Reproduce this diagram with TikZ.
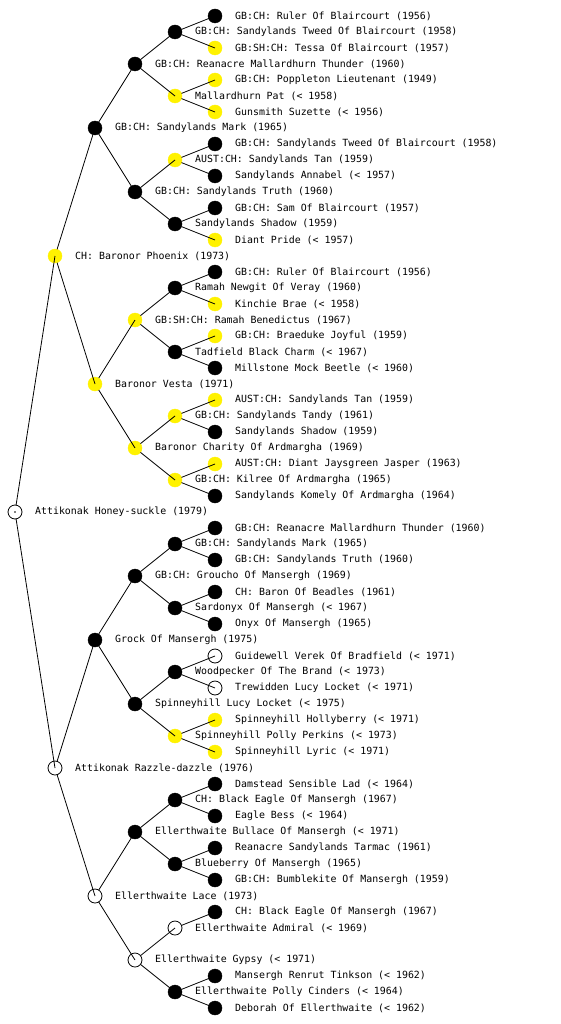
\documentclass[tikz,border=0pt]{standalone}
\usepackage{fontspec}
\newfontfamily\pix{DejaVu Sans Mono}
\tikzset{
  pnode/.style={circle,minimum size=14pt,inner sep=0pt,outer sep=0pt},
  blk/.style={pnode,draw=black,fill=black},
  ylw/.style={pnode,draw=yellow,fill=yellow},
  wht/.style={pnode,draw=black,line width=0.8pt},
  lbl/.style={font=\pix\fontsize{9.9}{11}\selectfont,inner sep=0pt,text=black,xshift=13pt},
  edge/.style={draw=black,line width=0.8pt}
}
\newcommand\pn[5]{\node[#1,label={[lbl]0:{#5}}] (#2) at (#3,#4) {};}
\begin{document}
\begin{tikzpicture}[x=1pt,y=-1pt]
\useasboundingbox[fill=white] (0,0) rectangle (560,1024);
% level 0
\pn{wht}{a0}{15}{512}{Attikonak Honey-suckle (1979)}
% level 1
\pn{ylw}{b0}{55}{256}{CH: Baronor Phoenix (1973)}
\pn{wht}{b1}{55}{768}{Attikonak Razzle-dazzle (1976)}
% level 2
\pn{blk}{c0}{95}{128}{GB:CH: Sandylands Mark (1965)}
\pn{ylw}{c1}{95}{384}{Baronor Vesta (1971)}
\pn{blk}{c2}{95}{640}{Grock Of Mansergh (1975)}
\pn{wht}{c3}{95}{896}{Ellerthwaite Lace (1973)}
% level 3
\pn{blk}{d0}{135}{64}{GB:CH: Reanacre Mallardhurn Thunder (1960)}
\pn{blk}{d1}{135}{192}{GB:CH: Sandylands Truth (1960)}
\pn{ylw}{d2}{135}{320}{GB:SH:CH: Ramah Benedictus (1967)}
\pn{ylw}{d3}{135}{448}{Baronor Charity Of Ardmargha (1969)}
\pn{blk}{d4}{135}{576}{GB:CH: Groucho Of Mansergh (1969)}
\pn{blk}{d5}{135}{704}{Spinneyhill Lucy Locket (< 1975)}
\pn{blk}{d6}{135}{832}{Ellerthwaite Bullace Of Mansergh (< 1971)}
\pn{wht}{d7}{135}{960}{Ellerthwaite Gypsy (< 1971)}
% level 4
\pn{blk}{e0}{175}{32}{GB:CH: Sandylands Tweed Of Blaircourt (1958)}
\pn{ylw}{e1}{175}{96}{Mallardhurn Pat (< 1958)}
\pn{ylw}{e2}{175}{160}{AUST:CH: Sandylands Tan (1959)}
\pn{blk}{e3}{175}{224}{Sandylands Shadow (1959)}
\pn{blk}{e4}{175}{288}{Ramah Newgit Of Veray (1960)}
\pn{blk}{e5}{175}{352}{Tadfield Black Charm (< 1967)}
\pn{ylw}{e6}{175}{416}{GB:CH: Sandylands Tandy (1961)}
\pn{ylw}{e7}{175}{480}{GB:CH: Kilree Of Ardmargha (1965)}
\pn{blk}{e8}{175}{544}{GB:CH: Sandylands Mark (1965)}
\pn{blk}{e9}{175}{608}{Sardonyx Of Mansergh (< 1967)}
\pn{blk}{e10}{175}{672}{Woodpecker Of The Brand (< 1973)}
\pn{ylw}{e11}{175}{736}{Spinneyhill Polly Perkins (< 1973)}
\pn{blk}{e12}{175}{800}{CH: Black Eagle Of Mansergh (1967)}
\pn{blk}{e13}{175}{864}{Blueberry Of Mansergh (1965)}
\pn{wht}{e14}{175}{928}{Ellerthwaite Admiral (< 1969)}
\pn{blk}{e15}{175}{992}{Ellerthwaite Polly Cinders (< 1964)}
% level 5
\pn{blk}{f0}{215}{16}{GB:CH: Ruler Of Blaircourt (1956)}
\pn{ylw}{f1}{215}{48}{GB:SH:CH: Tessa Of Blaircourt (1957)}
\pn{ylw}{f2}{215}{80}{GB:CH: Poppleton Lieutenant (1949)}
\pn{ylw}{f3}{215}{112}{Gunsmith Suzette (< 1956)}
\pn{blk}{f4}{215}{144}{GB:CH: Sandylands Tweed Of Blaircourt (1958)}
\pn{blk}{f5}{215}{176}{Sandylands Annabel (< 1957)}
\pn{blk}{f6}{215}{208}{GB:CH: Sam Of Blaircourt (1957)}
\pn{ylw}{f7}{215}{240}{Diant Pride (< 1957)}
\pn{blk}{f8}{215}{272}{GB:CH: Ruler Of Blaircourt (1956)}
\pn{ylw}{f9}{215}{304}{Kinchie Brae (< 1958)}
\pn{ylw}{f10}{215}{336}{GB:CH: Braeduke Joyful (1959)}
\pn{blk}{f11}{215}{368}{Millstone Mock Beetle (< 1960)}
\pn{ylw}{f12}{215}{400}{AUST:CH: Sandylands Tan (1959)}
\pn{blk}{f13}{215}{432}{Sandylands Shadow (1959)}
\pn{ylw}{f14}{215}{464}{AUST:CH: Diant Jaysgreen Jasper (1963)}
\pn{blk}{f15}{215}{496}{Sandylands Komely Of Ardmargha (1964)}
\pn{blk}{f16}{215}{528}{GB:CH: Reanacre Mallardhurn Thunder (1960)}
\pn{blk}{f17}{215}{560}{GB:CH: Sandylands Truth (1960)}
\pn{blk}{f18}{215}{592}{CH: Baron Of Beadles (1961)}
\pn{blk}{f19}{215}{624}{Onyx Of Mansergh (1965)}
\pn{wht}{f20}{215}{656}{Guidewell Verek Of Bradfield (< 1971)}
\pn{wht}{f21}{215}{688}{Trewidden Lucy Locket (< 1971)}
\pn{ylw}{f22}{215}{720}{Spinneyhill Hollyberry (< 1971)}
\pn{ylw}{f23}{215}{752}{Spinneyhill Lyric (< 1971)}
\pn{blk}{f24}{215}{784}{Damstead Sensible Lad (< 1964)}
\pn{blk}{f25}{215}{816}{Eagle Bess (< 1964)}
\pn{blk}{f26}{215}{848}{Reanacre Sandylands Tarmac (1961)}
\pn{blk}{f27}{215}{880}{GB:CH: Bumblekite Of Mansergh (1959)}
\pn{blk}{f28}{215}{912}{CH: Black Eagle Of Mansergh (1967)}
\pn{blk}{f30}{215}{976}{Mansergh Renrut Tinkson (< 1962)}
\pn{blk}{f31}{215}{1008}{Deborah Of Ellerthwaite (< 1962)}
% root dot
\fill (a0.center) circle (0.9pt);
% edges: parent border to child centre
\foreach \p/\c in {a0/b0,a0/b1,
  b0/c0,b0/c1,b1/c2,b1/c3,
  c0/d0,c0/d1,c1/d2,c1/d3,c2/d4,c2/d5,c3/d6,c3/d7,
  d0/e0,d0/e1,d1/e2,d1/e3,d2/e4,d2/e5,d3/e6,d3/e7,
  d4/e8,d4/e9,d5/e10,d5/e11,d6/e12,d6/e13,d7/e14,d7/e15,
  e0/f0,e0/f1,e1/f2,e1/f3,e2/f4,e2/f5,e3/f6,e3/f7,
  e4/f8,e4/f9,e5/f10,e5/f11,e6/f12,e6/f13,e7/f14,e7/f15,
  e8/f16,e8/f17,e9/f18,e9/f19,e10/f20,e10/f21,e11/f22,e11/f23,
  e12/f24,e12/f25,e13/f26,e13/f27,e14/f28,e15/f30,e15/f31}
  \draw[edge] (\p) -- (\c.center);
\end{tikzpicture}
\end{document}
